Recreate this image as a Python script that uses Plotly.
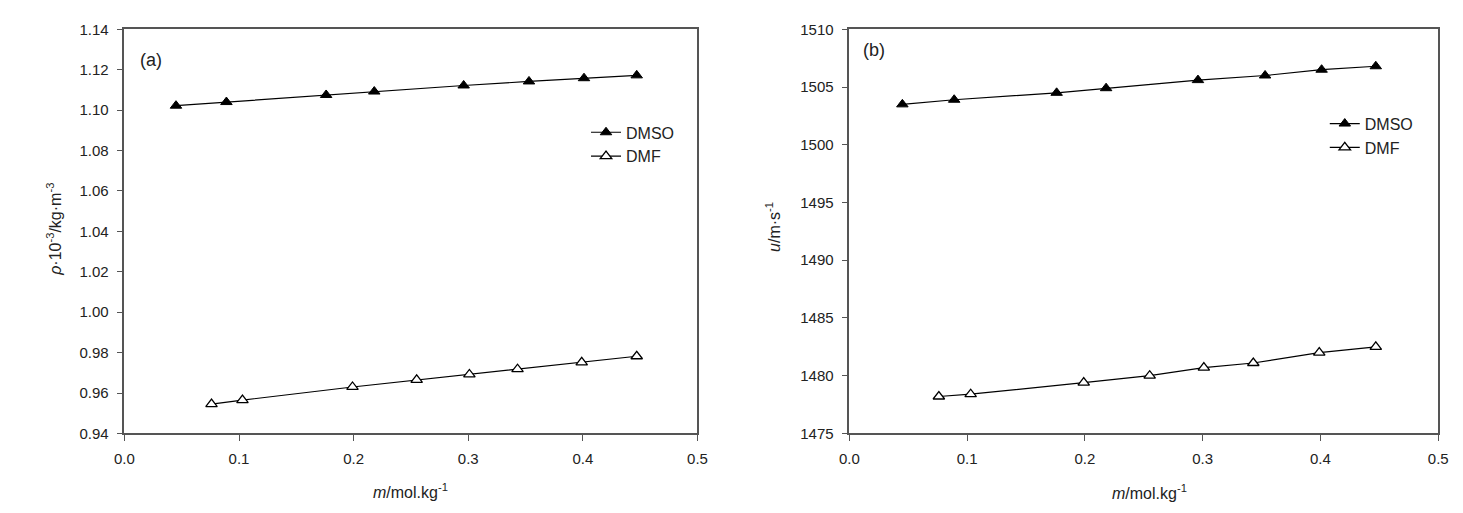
import plotly.graph_objects as go

# ---- data ----
m_dmso = [0.045, 0.089, 0.176, 0.218, 0.296, 0.353, 0.401, 0.447]
rho_dmso = [1.1022, 1.1040, 1.1075, 1.1092, 1.1122, 1.1142, 1.1158, 1.1172]
u_dmso = [1503.5, 1503.9, 1504.5, 1504.9, 1505.6, 1506.0, 1506.5, 1506.8]

m_dmf = [0.076, 0.103, 0.199, 0.255, 0.301, 0.343, 0.399, 0.447]
rho_dmf = [0.9545, 0.9565, 0.9630, 0.9665, 0.9692, 0.9718, 0.9752, 0.9782]
u_dmf = [1478.2, 1478.4, 1479.4, 1480.0, 1480.7, 1481.1, 1482.0, 1482.5]

x_ticks = [0.0, 0.1, 0.2, 0.3, 0.4, 0.5]
rho_ticks = [0.94, 0.96, 0.98, 1.00, 1.02, 1.04, 1.06, 1.08, 1.10, 1.12, 1.14]
u_ticks = [1475, 1480, 1485, 1490, 1495, 1500, 1505, 1510]

W, H = 1463, 513
FONT = "Arial, Liberation Sans, sans-serif"

def px_x(p):
    return p / W

def px_y(p):
    return 1 - p / H

fig = go.Figure()

line = dict(color="black", width=1.2)
filled = dict(symbol="triangle-up", size=10, color="black", line=dict(color="black", width=1))
hollow = dict(symbol="triangle-up", size=10, color="white", line=dict(color="black", width=1.3))

fig.add_trace(go.Scatter(x=m_dmso, y=rho_dmso, mode="lines+markers", name="DMSO",
                         line=line, marker=filled, xaxis="x", yaxis="y", legend="legend"))
fig.add_trace(go.Scatter(x=m_dmf, y=rho_dmf, mode="lines+markers", name="DMF",
                         line=line, marker=hollow, xaxis="x", yaxis="y", legend="legend"))
fig.add_trace(go.Scatter(x=m_dmso, y=u_dmso, mode="lines+markers", name="DMSO",
                         line=line, marker=filled, xaxis="x2", yaxis="y2", legend="legend2"))
fig.add_trace(go.Scatter(x=m_dmf, y=u_dmf, mode="lines+markers", name="DMF",
                         line=line, marker=hollow, xaxis="x2", yaxis="y2", legend="legend2"))

axis_common = dict(
    showline=True, linecolor="#555555", linewidth=1.5, mirror=True,
    ticks="outside", ticklen=6, tickcolor="#555555", tickwidth=1.3,
    showgrid=False, zeroline=False,
    tickfont=dict(family=FONT, size=15, color="#222222"),
)

ydom = [px_y(439), px_y(21)]

fig.update_layout(
    width=W, height=H,
    margin=dict(l=0, r=0, t=0, b=0),
    paper_bgcolor="white", plot_bgcolor="white",
    font=dict(family=FONT, color="#222222"),
    xaxis=dict(domain=[px_x(116), px_x(697)], range=[0, 0.5], tickvals=x_ticks,
               tickformat=".1f", anchor="y", ticklabelstandoff=5, **axis_common),
    yaxis=dict(domain=ydom, range=[0.94, 1.14], tickvals=rho_ticks,
               tickformat=".2f", anchor="x", ticklabelstandoff=5, **axis_common),
    xaxis2=dict(domain=[px_x(851), px_x(1448)], range=[0, 0.5], tickvals=x_ticks,
                tickformat=".1f", anchor="y2", ticklabelstandoff=5, **axis_common),
    yaxis2=dict(domain=ydom, range=[1475, 1510], tickvals=u_ticks,
                tickformat="d", anchor="x2", ticklabelstandoff=5, **axis_common),
    legend=dict(x=px_x(584), y=px_y(110), xanchor="left", yanchor="top",
                bgcolor="rgba(0,0,0,0)", font=dict(family=FONT, size=16, color="#222222"),
                itemwidth=30, tracegroupgap=0),
    legend2=dict(x=px_x(1333), y=px_y(101), xanchor="left", yanchor="top",
                 bgcolor="rgba(0,0,0,0)", font=dict(family=FONT, size=16, color="#222222"),
                 itemwidth=30, tracegroupgap=0),
    showlegend=True,
)

annots = [
    dict(text="(a)", x=px_x(130), y=px_y(53), xanchor="left", yanchor="middle", size=18),
    dict(text="(b)", x=px_x(863), y=px_y(42), xanchor="left", yanchor="middle", size=18),
    dict(text="<i>m</i>/mol.kg<sup>-1</sup>", x=px_x(406), y=px_y(499), xanchor="center", yanchor="middle", size=16),
    dict(text="<i>m</i>/mol.kg<sup>-1</sup>", x=px_x(1155), y=px_y(500), xanchor="center", yanchor="middle", size=16),
]
for a in annots:
    fig.add_annotation(text=a["text"], x=a["x"], y=a["y"], xref="paper", yref="paper",
                       xanchor=a["xanchor"], yanchor=a["yanchor"], showarrow=False,
                       font=dict(family=FONT, size=a["size"], color="#222222"))

fig.add_annotation(text="<i>ρ</i>·10<sup>-3</sup>/kg·m<sup>-3</sup>", x=px_x(45), y=px_y(228),
                   xref="paper", yref="paper", textangle=-90, showarrow=False,
                   xanchor="center", yanchor="middle",
                   font=dict(family=FONT, size=16, color="#222222"))
fig.add_annotation(text="<i>u</i>/m·s<sup>-1</sup>", x=px_x(773), y=px_y(225),
                   xref="paper", yref="paper", textangle=-90, showarrow=False,
                   xanchor="center", yanchor="middle",
                   font=dict(family=FONT, size=16, color="#222222"))

fig.write_html("out.html", config={"displayModeBar": False},
               post_script="document.body.style.margin='0';document.body.style.overflow='hidden';")
